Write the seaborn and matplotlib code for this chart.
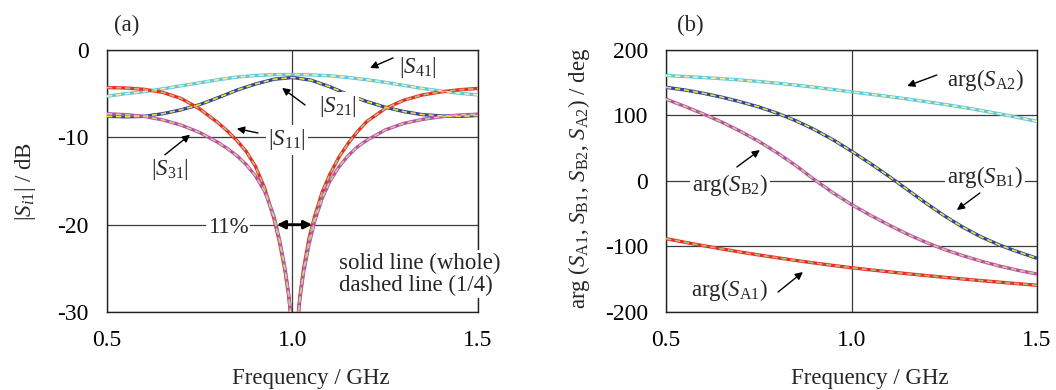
import numpy as np
import pandas as pd
import matplotlib
matplotlib.use("Agg")
import matplotlib.pyplot as plt
import seaborn as sns

sns.set_style("white")
plt.rcParams["font.family"] = ["Liberation Serif", "DejaVu Serif"]
plt.rcParams["mathtext.fontset"] = "custom"
plt.rcParams["mathtext.rm"] = "Liberation Serif"
plt.rcParams["mathtext.it"] = "Liberation Serif:italic"
plt.rcParams["axes.unicode_minus"] = False

# ---- (a) magnitudes in dB ----
freq_null = [0.5, 0.55, 0.6, 0.65, 0.7, 0.75, 0.8, 0.825, 0.85, 0.875, 0.9, 0.925,
             0.95, 0.965, 0.98, 0.99, 1.0, 1.005, 1.01, 1.02, 1.03, 1.045, 1.06, 1.08,
             1.1, 1.125, 1.15, 1.175, 1.2, 1.25, 1.3, 1.35, 1.4, 1.45, 1.5]
s11_db = [-4.3, -4.35, -4.5, -4.85, -5.55, -6.75, -8.35, -9.3, -10.35, -11.6, -13.3, -15.8,
          -19.3, -22.0, -25.3, -28.2, -32.5, -38.0, -33.0, -28.2, -25.0, -21.5, -19.0, -16.3,
          -14.3, -12.3, -10.7, -9.35, -8.2, -6.7, -5.75, -5.15, -4.8, -4.55, -4.4]
s31_db = [-7.3, -7.4, -7.6, -8.0, -8.6, -9.45, -10.6, -11.3, -12.1, -13.1, -14.4, -16.2,
          -19.0, -21.7, -25.0, -28.0, -32.5, -38.0, -33.0, -28.5, -25.5, -22.2, -19.6, -17.0,
          -15.1, -13.4, -12.1, -11.1, -10.35, -9.15, -8.4, -7.95, -7.65, -7.45, -7.35]

freq = [0.5, 0.55, 0.6, 0.65, 0.7, 0.75, 0.8, 0.85, 0.9, 0.95, 1.0,
        1.05, 1.1, 1.15, 1.2, 1.25, 1.3, 1.35, 1.4, 1.45, 1.5]
s21_db = [-7.6, -7.65, -7.6, -7.3, -6.85, -6.25, -5.45, -4.6, -3.9, -3.35, -3.15,
          -3.45, -4.2, -5.1, -5.9, -6.55, -7.05, -7.4, -7.55, -7.6, -7.5]
s41_db = [-5.3, -5.0, -4.77, -4.45, -4.1, -3.75, -3.4, -3.1, -2.92, -2.82, -2.8,
          -2.85, -2.95, -3.15, -3.4, -3.7, -4.05, -4.4, -4.7, -4.95, -5.15]

# ---- (b) phases in degrees ----
arg_a2 = [161, 159.6, 158, 156.2, 154.2, 151.9, 149.3, 146.4, 143.2, 139.7, 136,
          132.6, 129, 125.2, 121.2, 117, 112.5, 107.6, 102.4, 96.8, 91]
arg_b1 = [143, 139, 134, 128, 121, 113, 103.5, 92, 78.5, 63, 45.5,
          27, 7.5, -13, -33.5, -53, -70.5, -85.5, -98, -108.5, -118]
arg_b2 = [125, 114, 102.5, 90, 76, 60.5, 43, 23.5, 2, -18, -36,
          -52, -67, -81, -93.5, -104.5, -114, -122.5, -130, -136.5, -142]
arg_a1 = [-88, -93.5, -98.7, -103.7, -108.4, -112.9, -117.2, -121.3, -125.2, -128.9, -132.4,
          -135.6, -138.6, -141.5, -144.3, -147, -149.6, -152.1, -154.5, -156.9, -159.2]

RED, RED_D = "#ee2a24", "#a9c47e"
MAG, MAG_D = "#c24aaa", "#bcd68e"
BLUE, BLUE_D = "#2b46a4", "#f2e22a"
CYAN, CYAN_D = "#5fc6df", "#f1f1a6"

W_SOLID, W_DASH = 2.4, 1.2

fig = plt.figure(figsize=(10.56, 3.9), dpi=100)
ax_a = fig.add_axes([0.1013, 0.2, 0.3513, 0.6718])
ax_b = fig.add_axes([0.6307, 0.2, 0.3513, 0.6718])


def pair(ax, x, y, c_solid, c_dash):
    df = pd.DataFrame({"f": x, "v": y})
    sns.lineplot(data=df, x="f", y="v", ax=ax, color=c_solid, lw=W_SOLID,
                 estimator=None, sort=False, zorder=3)
    sns.lineplot(data=df, x="f", y="v", ax=ax, color=c_dash, lw=W_DASH,
                 estimator=None, sort=False, zorder=4)
    ax.lines[-1].set_dashes((3.2, 2.2))
    for ln in ax.lines[-2:]:
        ln.set_solid_joinstyle("round")
        ln.set_solid_capstyle("butt")


pair(ax_a, freq, s41_db, CYAN, CYAN_D)
pair(ax_a, freq, s21_db, BLUE, BLUE_D)
pair(ax_a, freq_null, s11_db, RED, RED_D)
pair(ax_a, freq_null, s31_db, MAG, MAG_D)

pair(ax_b, freq, arg_a2, CYAN, CYAN_D)
pair(ax_b, freq, arg_b1, BLUE, BLUE_D)
pair(ax_b, freq, arg_b2, MAG, MAG_D)
pair(ax_b, freq, arg_a1, RED, RED_D)

FS = 16.5
FS_TICK = 17
box = dict(facecolor="white", edgecolor="none", pad=1.5)
arrow = dict(arrowstyle="-|>", color="black", lw=1.0, mutation_scale=11,
             shrinkA=0, shrinkB=0)

for ax in (ax_a, ax_b):
    ax.set_xlim(0.5, 1.5)
    ax.set_xticks([0.5, 1.0, 1.5])
    ax.set_xticklabels(["0.5", "1.0", "1.5"])
    ax.tick_params(length=0, pad=13, labelsize=FS_TICK, colors="black")
    ax.grid(True, color="#3c3c3c", lw=0.9, zorder=1)
    ax.set_axisbelow(True)
    for s in ax.spines.values():
        s.set_color("#222222")
        s.set_linewidth(1.0)
        s.set_zorder(2.5)
    ax.set_xlabel("Frequency / GHz", fontsize=FS)
    ax.xaxis.set_label_coords(0.55, -0.215)

ax_a.set_ylim(-30, 0)
ax_a.set_yticks([-30, -20, -10, 0])
ax_a.set_yticklabels(["-30", "-20", "-10", "0"])
ax_a.set_ylabel(r"$|S_{i1}|$ / dB", fontsize=FS)
ax_a.yaxis.set_label_coords(-0.185, 0.5)

ax_b.set_ylim(-200, 200)
ax_b.set_yticks([-200, -100, 0, 100, 200])
ax_b.set_yticklabels(["-200", "-100", "0", "100", "200"])
ax_b.set_ylabel(r"arg ($S_{\mathrm{A1}}$, $S_{\mathrm{B1}}$, $S_{\mathrm{B2}}$, $S_{\mathrm{A2}}$) / deg",
                fontsize=FS)
ax_b.yaxis.set_label_coords(-0.20, 0.51)

ax_a.text(0.054, 1.095, "(a)", transform=ax_a.transAxes, fontsize=FS,
          ha="center", va="center")
ax_b.text(0.065, 1.095, "(b)", transform=ax_b.transAxes, fontsize=FS,
          ha="center", va="center")


def label(ax, txt, xy, tail, tip):
    ax.text(xy[0], xy[1], txt, fontsize=FS, ha="center", va="center",
            bbox=box, zorder=6, clip_on=False)
    if tail is not None:
        ax.annotate("", xy=tip, xytext=tail, arrowprops=arrow, zorder=6)


# ---- labels for (a) ----
label(ax_a, r"$|S_{41}|$", (1.338, -2.06), (1.271, -0.91), (1.209, -2.06))
label(ax_a, r"$|S_{21}|$", (1.123, -6.5), (1.034, -6.3), (0.972, -4.34))
label(ax_a, r"$|S_{11}|$", (0.985, -10.3), (0.907, -9.5), (0.850, -9.0))
label(ax_a, r"$|S_{31}|$", (0.67, -13.7), (0.656, -12.0), (0.724, -9.7))
label(ax_a, "11%", (0.826, -20.3), None, None)
ax_a.annotate("", xy=(0.958, -20), xytext=(1.053, -20),
              arrowprops=dict(arrowstyle="<|-|>", color="black", lw=2.0,
                              mutation_scale=12, shrinkA=0, shrinkB=0), zorder=6)
ax_a.text(1.125, -25.66, "solid line (whole)\ndashed line (1/4)", fontsize=FS,
          ha="left", va="center", linespacing=1.05, bbox=box, zorder=6, clip_on=False)

# ---- labels for (b) ----
label(ax_b, r"arg($S_{\mathrm{A2}}$)", (1.36, 154.2), (1.230, 161.8), (1.150, 145))
label(ax_b, r"arg($S_{\mathrm{B2}}$)", (0.672, -6.1), (0.691, 21.4), (0.753, 47.3))
label(ax_b, r"arg($S_{\mathrm{B1}}$)", (1.36, 6.1), (1.346, -18.3), (1.284, -44.3))
label(ax_b, r"arg($S_{\mathrm{A1}}$)", (0.672, -166.4), (0.802, -169.5), (0.869, -139))

for ax in (ax_a, ax_b):
    leg = ax.get_legend()
    if leg is not None:
        leg.remove()

fig.savefig("out.png", dpi=100)
